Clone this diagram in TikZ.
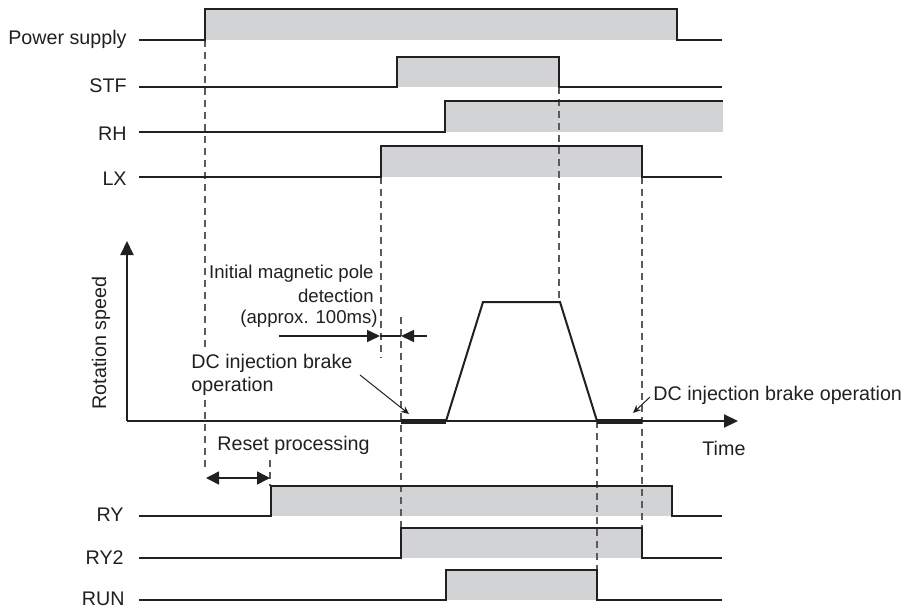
\documentclass[tikz,border=0pt]{standalone}
\usepackage{fontspec}
\setmainfont{Liberation Sans}
\usetikzlibrary{arrows.meta}
\definecolor{ink}{HTML}{231F20}
\definecolor{sig}{HTML}{D1D3D4}
\definecolor{dsh}{HTML}{5A5A5A}
\tikzset{
  lbl/.style={font=\fontsize{9.85}{11.5}\selectfont, text=ink, inner sep=0pt},
  note/.style={font=\fontsize{9.3}{11}\selectfont, text=ink, inner sep=0pt},
  wave/.style={draw=ink, line width=1pt, line join=miter},
  hi/.style={fill=sig, draw=none},
  guide/.style={draw=dsh, line width=0.6pt, dash pattern=on 3.5pt off 2.5pt},
  axis/.style={draw=ink, line width=1pt, -{Triangle[length=7pt,width=6.5pt]}},
  meas/.style={draw=ink, line width=0.8pt, -{Triangle[length=6.5pt,width=6pt]}},
  pointer/.style={draw=ink, line width=0.5pt, -{Stealth[length=4pt,width=3.5pt]}},
  brake/.style={draw=ink, line width=2.5pt}
}
\begin{document}
\begin{tikzpicture}[x=0.5pt,y=-0.5pt]
\useasboundingbox (0,0) rectangle (908,610);

% ---- signal fills ----
\fill[hi] (205,9) rectangle (677,40);
\fill[hi] (397,57) rectangle (559,87);
\fill[hi] (445,101) rectangle (723,132);
\fill[hi] (381,146) rectangle (642,177);
\fill[hi] (271,486) rectangle (672,516);
\fill[hi] (401,528) rectangle (642,558);
\fill[hi] (446,570) rectangle (597,600);

% ---- dashed guides ----
\draw[guide] (205,40) -- (205,470);
\draw[guide] (270,460) -- (270,486);
\draw[guide] (381,177) -- (381,358);
\draw[guide] (401,317) -- (401,528);
\draw[guide] (559,87) -- (559,302);
\draw[guide] (597,421) -- (597,570);
\draw[guide] (642,177) -- (642,558);

% ---- waveforms ----
\draw[wave] (139,40) -- (205,40) -- (205,9) -- (677,9) -- (677,40) -- (722,40);
\draw[wave] (139,87) -- (397,87) -- (397,57) -- (559,57) -- (559,87) -- (722,87);
\draw[wave] (139,132) -- (445,132) -- (445,101) -- (723,101);
\draw[wave] (139,177) -- (381,177) -- (381,146) -- (642,146) -- (642,177) -- (722,177);
\draw[wave] (139,516) -- (271,516) -- (271,486) -- (672,486) -- (672,516) -- (722,516);
\draw[wave] (139,558) -- (401,558) -- (401,528) -- (642,528) -- (642,558) -- (722,558);
\draw[wave] (139,600) -- (446,600) -- (446,570) -- (597,570) -- (597,600) -- (722,600);

% ---- signal labels ----
\node[lbl, anchor=base east] (lpow) at (127,44.5) {Power supply};
\node[lbl, anchor=base east] (lstf) at (127,92.5) {STF};
\node[lbl, anchor=base east] (lrh)  at (127,140.5) {RH};
\node[lbl, anchor=base east] (llx)  at (127,185.5) {LX};
\node[lbl, anchor=base east] (lry)  at (124,521) {RY};
\node[lbl, anchor=base east] (lry2) at (124,564) {RY2};
\node[lbl, anchor=base east] (lrun) at (125,605) {RUN};

% ---- axes ----
\coordinate (org) at (127,421);
\coordinate (ytip) at (127,241);
\coordinate (xtip) at (738,421);
\draw[axis] (org) -- (ytip);
\draw[axis] (org) -- (xtip);
\node[lbl, rotate=90] (lrot) at (101,343) {Rotation speed};
\node[lbl, anchor=base west] (ltime) at (702,455) {Time};

% ---- speed profile ----
\draw[wave] (446,421) -- (483,302) -- (560,302) -- (597,421);
\draw[brake] (401,421) -- (446,421);
\draw[brake] (597,421) -- (642,421);

% ---- initial magnetic pole detection ----
\node[note, anchor=base east] (imp1) at (374,278) {Initial magnetic pole};
\node[note, anchor=base east] (imp2) at (374,302) {detection};
\node[note, anchor=base east] (imp3) at (378,323) {(approx. 100ms)};
\coordinate (mL) at (279,336);
\coordinate (mA) at (380,336);
\coordinate (mB) at (401,336);
\coordinate (mR) at (427,336);
\draw[meas] (mL) -- (mA);
\draw[meas] (mR) -- (mB);
\draw[draw=ink, line width=0.8pt] (mA) -- (mB);

% ---- DC injection brake (left) ----
\node[lbl, anchor=base west, fill=white, inner sep=1.5pt] (dc1) at (188,368) {DC injection brake};
\node[lbl, anchor=base west, fill=white, inner sep=1.5pt] (dc2) at (188,391) {operation};
\coordinate (p1s) at (360,375);
\coordinate (p1e) at (409,414);
\draw[pointer] (p1s) -- (p1e);

% ---- DC injection brake (right) ----
\node[lbl, anchor=base west] (dc3) at (653,400) {DC injection brake operation};
\coordinate (p2s) at (650,397);
\coordinate (p2e) at (633,413);
\draw[pointer] (p2s) -- (p2e);

% ---- reset processing ----
\node[lbl, anchor=base west] (lreset) at (217,450) {Reset processing};
\coordinate (rL) at (206,478);
\coordinate (rR) at (270,478);
\draw[draw=ink, line width=0.8pt, {Triangle[length=6.5pt,width=6.5pt]}-{Triangle[length=6.5pt,width=6.5pt]}] (rL) -- (rR);
\end{tikzpicture}
\end{document}
